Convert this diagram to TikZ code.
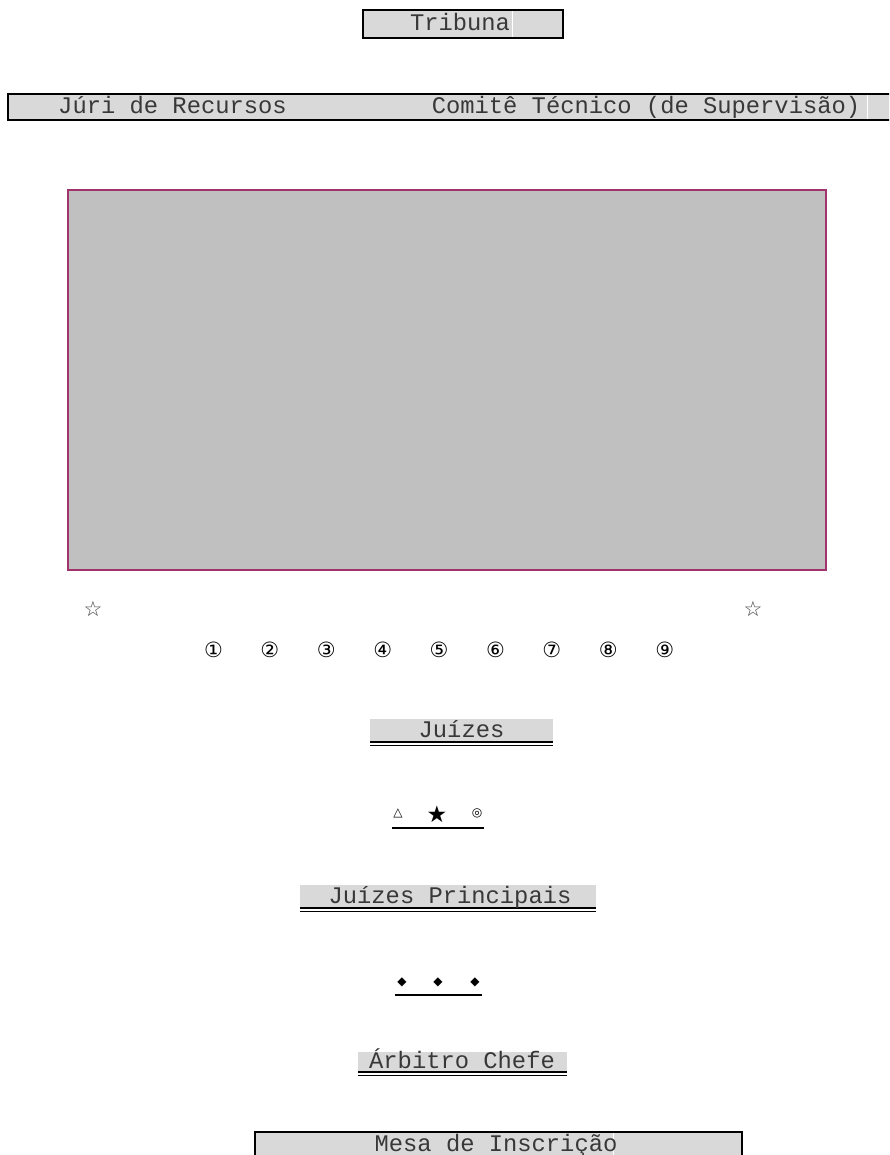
\documentclass[tikz,border=0pt]{standalone}
\usepackage{fontspec}
\setmonofont{Liberation Mono}
\newfontfamily\symfont{DejaVu Sans}
\definecolor{hlgray}{HTML}{D9D9D9}
\definecolor{fieldgray}{HTML}{C0C0C0}
\definecolor{fieldedge}{HTML}{A0336B}
\begin{document}
\begin{tikzpicture}[x=1pt,y=-1pt,
  lbl/.style={inner sep=0pt,anchor=base,font=\ttfamily\fontsize{23.8}{24}\selectfont,text=black!78},
  sym/.style={inner sep=0pt,font=\symfont\fontsize{#1}{#1}\selectfont},
  frame/.style={draw=black,line width=2.6pt},
  dbl/.style={line width=1.3pt},
  dblthin/.style={line width=0.8pt},
  rule/.style={line width=2.2pt}]
\clip (0,0) rectangle (889,1155);
\fill[white] (0,0) rectangle (889,1155);
% Tribuna
\fill[hlgray] (363,10) rectangle (563,38);
\draw[white,line width=0.8pt] (512,11) -- (512,37);
\draw[frame] (363,10) rectangle (563,38);
\node[lbl] (tribuna) at (460,31) {Tribuna};
% top bar
\fill[hlgray] (8,94) rectangle (900,120);
\draw[white,line width=0.8pt] (867,95) -- (867,119);
\draw[frame] (8,94) rectangle (900,120);
\node[lbl] (juri) at (172.5,114) {Júri de Recursos};
\node[lbl] (comite) at (646,114) {Comitê Técnico (de Supervisão)};
% field
\draw[fill=fieldgray,draw=fieldedge,line width=2pt] (68,190) rectangle (826,570) node[pos=0.5] (field) {};
% stars
\node[sym=21,text=black!75] (staL) at (93,609) {☆};
\node[sym=21,text=black!75] (staR) at (753,609) {☆};
% numbered positions
\foreach \i [count=\k from 0] in {①,②,③,④,⑤,⑥,⑦,⑧,⑨}
  \node[sym=21] (p\k) at (213.5+56.4*\k,650) {\i};
% Juizes
\fill[hlgray] (370,719) rectangle (553,741);
\draw[dbl] (370,742) -- (553,742);
\draw[dblthin] (370,745.5) -- (553,745.5);
\node[lbl] (juizes) at (461.5,737) {Juízes};
% symbols
\node[sym=12] (tri) at (398,813) {△};
\node[sym=23] (star) at (437,814) {★};
\node[sym=12] (ring) at (477,813) {◎};
\draw[rule] (392,828) -- (484,828);
% Juizes principais
\fill[hlgray] (300,885) rectangle (596,907);
\draw[dbl] (300,908) -- (596,908);
\draw[dblthin] (300,911.5) -- (596,911.5);
\node[lbl] (principais) at (450,903) {Juízes Principais};
% diamonds
\node[sym=12] (d1) at (402,982) {◆};
\node[sym=12] (d2) at (438,982) {◆};
\node[sym=12] (d3) at (475,982) {◆};
\draw[rule] (395,995) -- (482,995);
% Arbitro Chefe
\fill[hlgray] (358,1052) rectangle (567,1071);
\draw[dbl] (358,1072) -- (567,1072);
\draw[dblthin] (358,1075.5) -- (567,1075.5);
\node[lbl] (arbitro) at (462,1068) {Árbitro Chefe};
% Mesa de Inscricao
\fill[hlgray] (255,1132) rectangle (742,1170);
\draw[white,line width=0.8pt] (613,1133) -- (613,1170);
\draw[frame] (255,1132) rectangle (742,1170);
\node[lbl] (mesa) at (496,1151) {Mesa de Inscrição};
\end{tikzpicture}
\end{document}
